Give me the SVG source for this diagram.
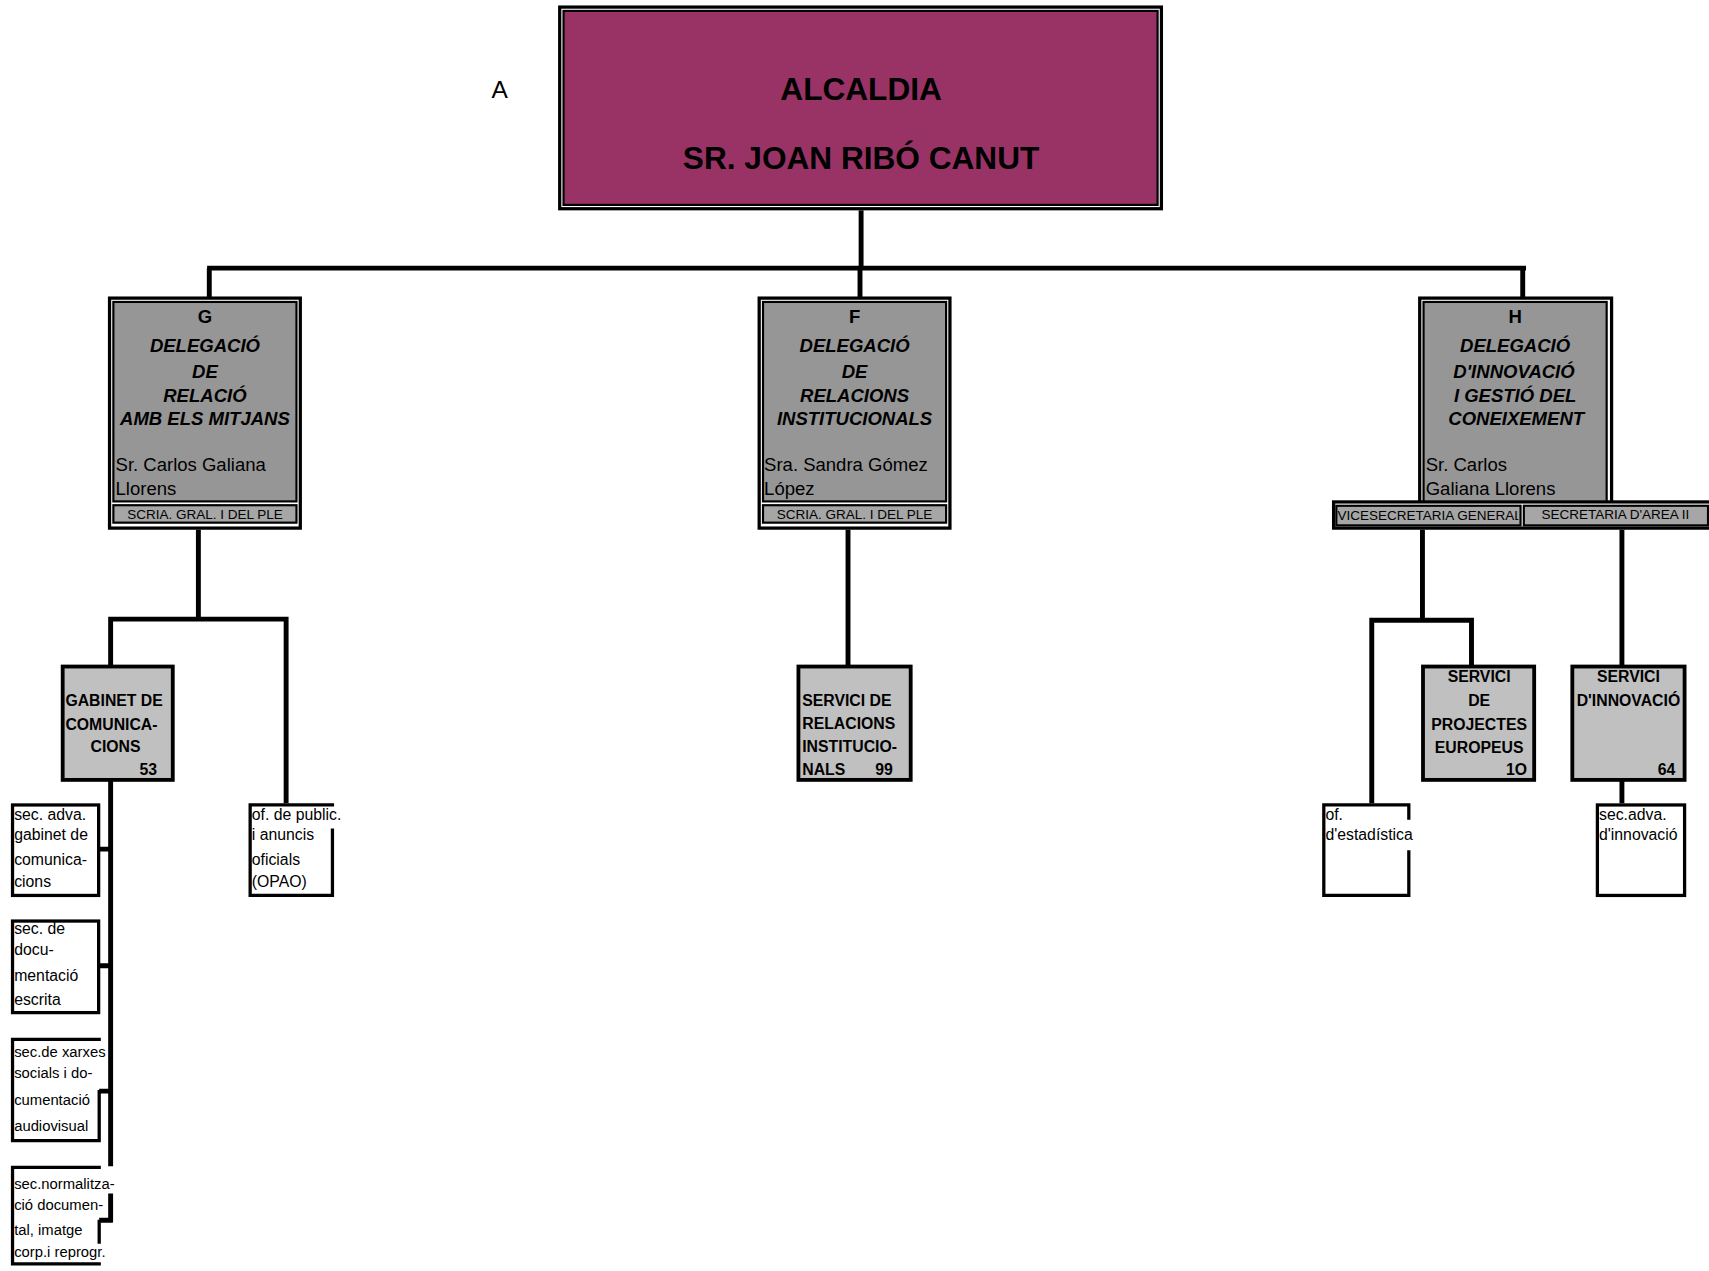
<svg xmlns="http://www.w3.org/2000/svg" width="1709" height="1271" viewBox="0 0 1709 1271">
<defs>
<style>
text{font-family:"Liberation Sans",Arial,sans-serif;fill:#000}
.t{font-size:29px;font-weight:bold;text-anchor:middle}
.h{font-size:17px;font-weight:bold;font-style:italic;text-anchor:middle}
.hl{font-size:17px;font-weight:bold;text-anchor:middle}
.n{font-size:17px}
.s{font-size:12.4px;text-anchor:middle}
.sl{font-size:12.4px}
.bx{font-size:14.5px;font-weight:bold}
.bc{font-size:14.5px;font-weight:bold;text-anchor:middle}
.be{font-size:14.5px;font-weight:bold;text-anchor:end}
.sm{font-size:14.5px}
.sm2{font-size:13.6px}
.frame{fill:#fff;stroke:#000;stroke-width:3}
.gray{fill:#969696;stroke:#000;stroke-width:2}
.sub{fill:#a6a6a6;stroke:#000;stroke-width:2}
.l2{fill:#c0c0c0;stroke:#000;stroke-width:3.5}
.wb{fill:none;stroke:#000;stroke-width:3}
.c{stroke:#000;fill:none;stroke-width:4.5}
</style>
<clipPath id="cv"><rect x="1226" y="463" width="167" height="20"/></clipPath>
</defs>
<rect width="1709" height="1271" fill="#fff"/>
<g transform="scale(1.09)">
<g id="connectors">
<path class="c" d="M790,193 V246" stroke-width="4"/>
<path class="c" d="M190,246 H1400" stroke-width="6"/>
<path class="c" d="M192,246 V273 M789,246 V273 M1397,246 V273" stroke-width="3"/>
<path class="c" d="M182,486 V568"/>
<path class="c" d="M101.5,610 V568 H262.5 V737"/>
<path class="c" d="M778,486 V610"/>
<path class="c" d="M1305,486 V569"/>
<path class="c" d="M1258.5,737 V569 H1350 V610"/>
<path class="c" d="M1488,486 V610"/>
<path class="c" d="M1488,716 V737"/>
<path class="c" d="M101.5,716 V1070 M101.5,1095 V1121"/>
<path class="c" d="M91,779 H101.5 M91,886 H101.5 M91,1001 H101.5 M91,1119.5 H103.5"/>
</g>
<g id="label-a"><text x="458.5" y="90" font-size="22.5" text-anchor="middle">A</text></g>
<g id="alcaldia">
<rect x="513.5" y="6.5" width="552" height="185" fill="#fff" stroke="#000" stroke-width="3"/>
<rect x="517" y="10" width="545" height="178" fill="#993366" stroke="#000" stroke-width="2"/>
<text class="t" x="790" y="92">ALCALDIA</text>
<text class="t" x="790" y="155">SR. JOAN RIBÓ CANUT</text>
</g>
<g id="deleg-g">
<rect class="frame" x="100.5" y="273.5" width="175" height="211"/>
<rect class="gray" x="104" y="277" width="168" height="183"/>
<rect class="sub" x="104" y="463.5" width="168" height="16"/>
<text class="hl" x="188" y="296">G</text>
<text class="h" x="188" y="323">DELEGACIÓ</text>
<text class="h" x="188" y="347">DE</text>
<text class="h" x="188" y="369">RELACIÓ</text>
<text class="h" x="188" y="390">AMB ELS MITJANS</text>
<text class="n" x="106" y="432">Sr. Carlos Galiana</text>
<text class="n" x="106" y="454">Llorens</text>
<text class="s" x="188" y="476">SCRIA. GRAL. I DEL PLE</text>
</g>
<g id="deleg-f">
<rect class="frame" x="696.5" y="273.5" width="175" height="211"/>
<rect class="gray" x="700" y="277" width="168" height="183"/>
<rect class="sub" x="700" y="463.5" width="168" height="16"/>
<text class="hl" x="784" y="296">F</text>
<text class="h" x="784" y="323">DELEGACIÓ</text>
<text class="h" x="784" y="347">DE</text>
<text class="h" x="784" y="369">RELACIONS</text>
<text class="h" x="784" y="390">INSTITUCIONALS</text>
<text class="n" x="701" y="432">Sra. Sandra Gómez</text>
<text class="n" x="701" y="454">López</text>
<text class="s" x="784" y="476">SCRIA. GRAL. I DEL PLE</text>
</g>
<g id="deleg-h">
<rect class="frame" x="1302.5" y="273.5" width="176" height="190"/>
<rect class="frame" x="1223.5" y="460.5" width="490" height="24"/>
<rect class="gray" x="1306" y="277" width="168" height="183"/>
<rect class="sub" x="1226" y="464" width="169" height="18"/>
<rect class="sub" x="1398" y="464" width="169" height="18"/>
<text class="hl" x="1390" y="296">H</text>
<text class="h" x="1390" y="323">DELEGACIÓ</text>
<text class="h" x="1389" y="347">D'INNOVACIÓ</text>
<text class="h" x="1390" y="369">I GESTIÓ DEL</text>
<text class="h" x="1391" y="390">CONEIXEMENT</text>
<text class="n" x="1308" y="432">Sr. Carlos</text>
<text class="n" x="1308" y="454">Galiana Llorens</text>
<text class="sl" x="1227" y="477.5" clip-path="url(#cv)">VICESECRETARIA GENERAL</text>
<text class="s" x="1482" y="476.5">SECRETARIA D'AREA II</text>
</g>
<g id="gabinet">
<rect class="l2" x="57.5" y="611.5" width="101" height="104"/>
<text class="bx" x="60" y="648">GABINET DE</text>
<text class="bx" x="60" y="670">COMUNICA-</text>
<text class="bx" x="83" y="690">CIONS</text>
<text class="be" x="144" y="711">53</text>
</g>
<g id="relacions">
<rect class="l2" x="732.5" y="611.5" width="103" height="104"/>
<text class="bx" x="736" y="648">SERVICI DE</text>
<text class="bx" x="736" y="669">RELACIONS</text>
<text class="bx" x="736" y="690">INSTITUCIO-</text>
<text class="bx" x="736" y="711">NALS</text>
<text class="be" x="819" y="711">99</text>
</g>
<g id="projectes">
<rect class="l2" x="1305.5" y="611.5" width="102" height="104"/>
<text class="bc" x="1357" y="626">SERVICI</text>
<text class="bc" x="1357" y="648">DE</text>
<text class="bc" x="1357" y="670">PROJECTES</text>
<text class="bc" x="1357" y="691">EUROPEUS</text>
<text class="be" x="1401" y="711">1O</text>
</g>
<g id="innovacio">
<rect class="l2" x="1442.5" y="611.5" width="103" height="104"/>
<text class="bc" x="1494" y="626">SERVICI</text>
<text class="bc" x="1494" y="648">D'INNOVACIÓ</text>
<text class="be" x="1537" y="711">64</text>
</g>
<g id="sec-adva-gabinet">
<rect class="wb" x="11.5" y="738.5" width="79" height="83"/>
<text class="sm" x="13" y="752">sec. adva.</text>
<text class="sm" x="13" y="771">gabinet de</text>
<text class="sm" x="13" y="794">comunica-</text>
<text class="sm" x="13" y="814">cions</text>
</g>
<g id="sec-documentacio">
<rect class="wb" x="11.5" y="845" width="79" height="84"/>
<text class="sm" x="13" y="857">sec. de</text>
<text class="sm" x="13" y="876">docu-</text>
<text class="sm" x="13" y="900">mentació</text>
<text class="sm" x="13" y="922">escrita</text>
</g>
<g id="sec-xarxes">
<path class="wb" d="M91,1000 V1046.5 H11.5 V953.5 H92.5"/>
<text class="sm2" x="13" y="970">sec.de xarxes</text>
<text class="sm2" x="13" y="989">socials i do-</text>
<text class="sm2" x="13" y="1014">cumentació</text>
<text class="sm2" x="13" y="1038">audiovisual</text>
</g>
<g id="sec-normalitzacio">
<path class="wb" d="M91,1119 V1141 M92.5,1159.5 H11.5 V1071 H92.5"/>
<text class="sm2" x="13" y="1091">sec.normalitza-</text>
<text class="sm2" x="13" y="1110">ció documen-</text>
<text class="sm2" x="13" y="1133">tal, imatge</text>
<text class="sm2" x="13" y="1153">corp.i reprogr.</text>
</g>
<g id="of-public">
<path class="wb" d="M305,760 V821.5 H229.5 V738.5 H306.5"/>
<text class="sm" x="231" y="752">of. de public.</text>
<text class="sm" x="231" y="771">i anuncis</text>
<text class="sm" x="231" y="794">oficials</text>
<text class="sm" x="231" y="814">(OPAO)</text>
</g>
<g id="of-estadistica">
<path class="wb" d="M1292.5,752 V738.5 H1214.5 V821.5 H1292.5 V780"/>
<text class="sm" x="1216" y="752">of.</text>
<text class="sm" x="1216" y="771">d'estadística</text>
</g>
<g id="sec-adva-innovacio">
<rect class="wb" x="1465.5" y="738.5" width="80" height="83"/>
<text class="sm" x="1467" y="752">sec.adva.</text>
<text class="sm" x="1467" y="771">d'innovació</text>
</g>
</g>
</svg>
